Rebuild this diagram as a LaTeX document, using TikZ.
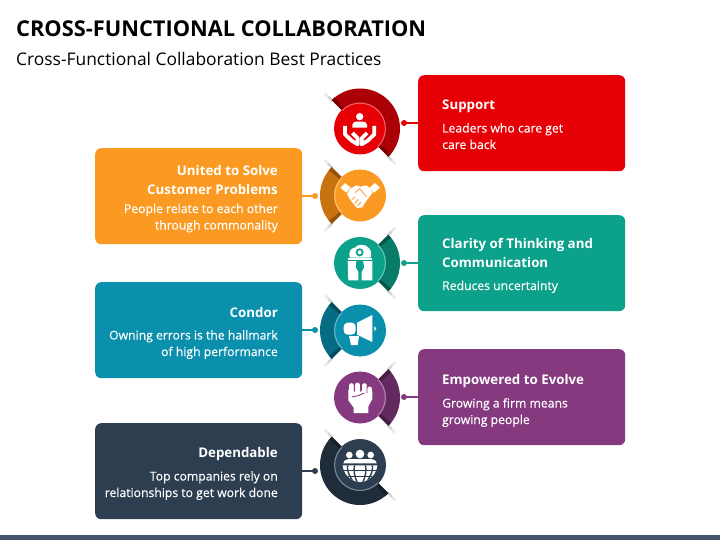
\documentclass[tikz,border=0pt]{standalone}
\usepackage{fontspec}
\setmainfont{Open Sans}
\newfontfamily\bodyface[FakeBold=0.25]{Open Sans}
\definecolor{cRed}{HTML}{E60005}\definecolor{aRed}{HTML}{AB0006}\definecolor{dRed}{HTML}{7C0004}
\definecolor{cOra}{HTML}{FB9A22}\definecolor{aOra}{HTML}{C97210}\definecolor{dOra}{HTML}{955309}
\definecolor{cTea}{HTML}{0CA18A}\definecolor{aTea}{HTML}{087C69}\definecolor{dTea}{HTML}{04574A}
\definecolor{cBlu}{HTML}{0A8FAD}\definecolor{aBlu}{HTML}{066C83}\definecolor{dBlu}{HTML}{034C5D}
\definecolor{cPur}{HTML}{853A80}\definecolor{aPur}{HTML}{632A5F}\definecolor{dPur}{HTML}{471D44}
\definecolor{cNav}{HTML}{2C3E50}\definecolor{aNav}{HTML}{1F2D3A}\definecolor{dNav}{HTML}{17222C}
\definecolor{cBar}{HTML}{44546A}
\tikzset{
  card/.style={rounded corners=6pt,inner sep=0pt,minimum width=207pt,minimum height=96pt,anchor=north west},
  ttl/.style={inner sep=0pt,anchor=base west,text=black,font=\fontsize{21.8}{26}\selectfont\bfseries},
  sub/.style={inner sep=0pt,anchor=base west,text=black,font=\fontsize{17.4}{20}\selectfont},
  headL/.style={inner sep=0pt,anchor=base west,text=white,font=\fontsize{13.3}{16}\selectfont\bfseries},
  bodyL/.style={inner sep=0pt,anchor=base west,text=white,font=\bodyface\fontsize{12.2}{14}\selectfont},
  headR/.style={headL,anchor=base east},
  bodyR/.style={bodyL,anchor=base east},
  badge/.style={circle,inner sep=0pt,minimum size=52pt},
  conn/.style={line width=1.5pt},
  iconbox/.style={x=0.33333pt,y=-0.33333pt},
  tip/.style={line width=2.6pt,color=black!20,opacity=.8},
  tipfar/.style={line width=2.6pt,color=black!10,opacity=.7}
}
% name, cx, cy, a1, a2, main, arc, dark
\newcommand{\sectorbadge}[8]{%
  \begin{scope}[shift={(#2,-#3)}]
    \draw[tipfar] (#4:45) -- (#4:50);
    \draw[tipfar] (#5:45) -- (#5:50);
    \draw[tip] (#4:39) -- (#4:45);
    \draw[tip] (#5:39) -- (#5:45);
    \fill[#7] (#4:40) arc[start angle=#4,end angle=#5,radius=40] -- (#5:24) arc[start angle=#5,end angle=#4,radius=24] -- cycle;
    \pgfmathsetmacro{\aa}{#4+6}\pgfmathsetmacro{\bb}{#5-6}
    \fill[#8] (#4:40) arc[start angle=#4,end angle=\aa,radius=40] -- (\aa:24) arc[start angle=\aa,end angle=#4,radius=24] -- cycle;
    \fill[#8] (\bb:40) arc[start angle=\bb,end angle=#5,radius=40] -- (#5:24) arc[start angle=#5,end angle=\bb,radius=24] -- cycle;
  \end{scope}
  \node[badge,fill=#6] (#1) at (#2,-#3) {};
  \begin{scope}[shift={(#2,-#3)}]
    \draw[white,opacity=.38,line width=1.1pt] (#4:25.4) arc[start angle=#4,end angle=#5,radius=25.4];
  \end{scope}%
}
\begin{document}
\begin{tikzpicture}[x=1pt,y=1pt]
\useasboundingbox (0,-540) rectangle (720,0);
\fill[white] (0,-540) rectangle (720,0);
\fill[cBar] (0,-540) rectangle (720,-535);

\node[ttl] (title) at (16,-37) {CROSS-FUNCTIONAL COLLABORATION};
\node[sub] (subtitle) at (16,-65.5) {Cross-Functional Collaboration Best Practices};

% cards
\node[card,fill=cRed] (b1) at (418,-75) {};
\node[card,fill=cOra] (b2) at (95,-148) {};
\node[card,fill=cTea] (b3) at (418,-215) {};
\node[card,fill=cBlu] (b4) at (95,-282) {};
\node[card,fill=cPur] (b5) at (418,-349) {};
\node[card,fill=cNav] (b6) at (95,-423) {};

% connectors
\coordinate (d1) at (404,-123);
\coordinate (d2) at (315,-196);
\coordinate (d3) at (404,-263);
\coordinate (d4) at (315,-330);
\coordinate (d5) at (404,-397);
\coordinate (d6) at (315,-471);
\draw[conn,cRed] (d1) -- (d1 -| b1.west); \fill[cRed] (d1) circle (3);
\draw[conn,cOra] (d2) -- (d2 -| b2.east); \fill[cOra] (d2) circle (3);
\draw[conn,cTea] (d3) -- (d3 -| b3.west); \fill[cTea] (d3) circle (3);
\draw[conn,cBlu] (d4) -- (d4 -| b4.east); \fill[cBlu] (d4) circle (3);
\draw[conn,cPur] (d5) -- (d5 -| b5.west); \fill[cPur] (d5) circle (3);
\draw[conn,cNav] (d6) -- (d6 -| b6.east); \fill[cNav] (d6) circle (3);

% badges
\sectorbadge{c1}{360}{128.5}{-45}{135}{cRed}{aRed}{dRed}
\sectorbadge{c2}{360}{195.5}{135}{225}{cOra}{aOra}{dOra}
\sectorbadge{c3}{360}{263}{-45}{45}{cTea}{aTea}{dTea}
\sectorbadge{c4}{360}{330.5}{135}{225}{cBlu}{aBlu}{dBlu}
\sectorbadge{c5}{360}{397.5}{-45}{45}{cPur}{aPur}{dPur}
\sectorbadge{c6}{360}{465}{135}{315}{cNav}{aNav}{dNav}

% icon 1: person in hands
\begin{scope}[shift={(335,-105)},iconbox]
  \fill[white] (74,35) circle[radius=11];
  \fill[white] (52,68) -- (52,60) .. controls (52,53) and (58,50) .. (63,50) -- (85,50) .. controls (90,50) and (96,53) .. (96,60) -- (96,68) -- cycle;
  \draw[white,line width=3.8pt,line join=round] (30,63) -- (30,88) -- (50,107) -- (68,118) -- (68,100) -- (52,84);
  \draw[white,line width=3.8pt,line join=round] (118,63) -- (118,88) -- (98,107) -- (80,118) -- (80,100) -- (96,84);
\end{scope}
% icon 2: handshake
\begin{scope}[shift={(335,-172)},iconbox]
  \fill[white] (16,47) -- (30,33) -- (47,47) -- (34,62) -- cycle;
  \fill[white] (135,47) -- (120,33) -- (104,47) -- (117,62) -- cycle;
  \fill[white] (46,50) -- (64,40) -- (76,44) -- (94,40) -- (107,50) -- (113,62) -- (94,86) -- (82,106) -- (66,108) -- (46,84) -- (36,66) -- cycle;
  \draw[cOra,line width=.8pt] (60,62) -- (74,50) -- (94,74) (50,84) -- (60,74) (59,94) -- (70,82) (68,102) -- (78,90);
\end{scope}
% icon 3: machine head
\begin{scope}[shift={(335,-239)},iconbox]
  \fill[white] (44,56) .. controls (40,38) and (48,26) .. (60,26) .. controls (66,14) and (94,14) .. (102,28) .. controls (110,34) and (110,50) .. (106,56) -- cycle;
  \fill[cTea] (74,40) circle[radius=12];
  \fill[white] (74,40) circle[radius=6];
  \fill[white] (38,58) rectangle (112,62);
  \fill[white] (38,66) -- (64,66) -- (62,84) -- (70,100) -- (70,124) -- (40,124) -- cycle;
  \fill[white] (84,66) -- (112,66) -- (112,124) -- (80,124) -- (80,100) -- (88,84) -- cycle;
\end{scope}
% icon 4: megaphone
\begin{scope}[shift={(335,-306)},iconbox]
  \fill[white] (66,50) -- (112,27) -- (112,108) -- (66,86) -- cycle;
  \fill[white,rounded corners=4pt] (26,50) rectangle (62,86);
  \fill[white] (42,90) -- (72,90) -- (68,117) -- (48,117) -- cycle;
  \fill[white] (118,60) -- (124,68) -- (118,76) -- cycle;
\end{scope}
% icon 5: fist
\begin{scope}[shift={(335,-373)},iconbox]
  \fill[white] (40,50) -- (40,82) -- (56,104) -- (56,120) -- (100,120) -- (100,100) -- (112,78) -- (112,55) -- cycle;
  \draw[white,line width=5pt,line cap=round] (49,38) -- (49,55) (67,36) -- (67,55) (87,38) -- (87,55) (104,48) -- (104,62);
  \draw[cPur,line width=.9pt] (58,32) -- (58,56) (77,32) -- (77,56) (96,38) -- (96,60) (50,72) -- (70,68) -- (88,60);
\end{scope}
% icon 6: people on globe
\begin{scope}[shift={(335,-440)},iconbox]
  \fill[white] (43,45) circle[radius=10];
  \fill[white] (107,45) circle[radius=10];
  \fill[white] (75,42) circle[radius=13];
  \fill[white] (25,70) .. controls (26,60) and (35,57) .. (48,57) -- (102,57) .. controls (115,57) and (124,60) .. (125,70) -- cycle;
  \begin{scope}
    \clip (23,76) -- (127,76) .. controls (124,105) and (100,126) .. (75,126) .. controls (50,126) and (26,105) .. (23,76) -- cycle;
    \fill[white] (20,70) rectangle (130,130);
    \draw[cNav,line width=1.4pt] (20,92) -- (130,92) (20,110) -- (130,110);
    \draw[cNav,line width=1.4pt] (60,70) .. controls (54,90) and (58,110) .. (68,130) (90,70) .. controls (96,90) and (92,110) .. (82,130) (38,70) .. controls (34,90) and (44,115) .. (60,130) (112,70) .. controls (116,90) and (106,115) .. (90,130);
  \end{scope}
\end{scope}

% texts
\node[headL] (t1h) at (442,-110) {Support};
\node[bodyL] (t1a) at (442,-132.5) {Leaders who care get};
\node[bodyL] (t1b) at (442,-149) {care back};

\node[headR] (t2h) at (278,-176) {United to Solve};
\node[headR] (t2i) at (278,-195) {Customer Problems};
\node[bodyR] (t2a) at (278,-213) {People relate to each other};
\node[bodyR] (t2b) at (278,-229.5) {through commonality};

\node[headL] (t3h) at (442,-248) {Clarity of Thinking and};
\node[headL] (t3i) at (442,-267) {Communication};
\node[bodyL] (t3a) at (442,-290) {Reduces uncertainty};

\node[headR] (t4h) at (278,-317) {Condor};
\node[bodyR] (t4a) at (278,-339.5) {Owning errors is the hallmark};
\node[bodyR] (t4b) at (278,-356) {of high performance};

\node[headL] (t5h) at (442,-384) {Empowered to Evolve};
\node[bodyL] (t5a) at (442,-407.5) {Growing a firm means};
\node[bodyL] (t5b) at (442,-424) {growing people};

\node[headR] (t6h) at (278,-457) {Dependable};
\node[bodyR] (t6a) at (278,-480.5) {Top companies rely on};
\node[bodyR] (t6b) at (278,-497) {relationships to get work done};
\end{tikzpicture}
\end{document}
